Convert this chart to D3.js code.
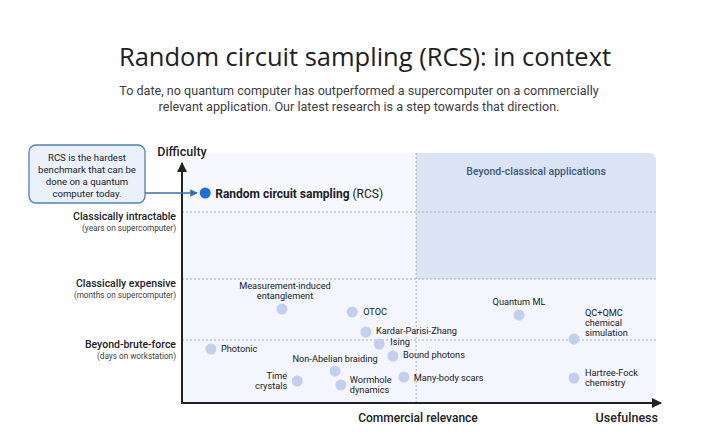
<!DOCTYPE html>
<html><head><meta charset="utf-8">
<script src="https://cdn.jsdelivr.net/npm/d3@7"></script>
<style>
html,body{margin:0;padding:0;background:#fff;}
svg{display:block;font-family:Roboto,"Open Sans",sans-serif;}
</style></head>
<body><svg id="c" width="720" height="447"></svg>
<script>
// ---- data ----
const pointNames = ["Random circuit sampling","Measurement-induced entanglement","OTOC","Kardar-Parisi-Zhang","Ising","Photonic","Non-Abelian braiding","Bound photons","Time crystals","Wormhole dynamics","Many-body scars","Quantum ML","QC+QMC chemical simulation","Hartree-Fock chemistry"];
const usefulness = [4.9,21.1,35.9,38.8,41.6,6.1,32.3,44.5,24.3,33.5,46.8,71.1,82.7,82.7];
const difficulty = [84,37.6,36.4,28.4,23.6,21.6,12.8,18.8,8.8,7.2,10.4,35.2,25.6,10];
const tierNames = ["Classically intractable","Classically expensive","Beyond-brute-force"];
const tierNotes = ["(years on supercomputer)","(months on supercomputer)","(days on workstation)"];
const tierLevels = [76.4,49.6,25.2];
const commercialThreshold = 49.4;

// label placement (style only)
const place = {
 "Measurement-induced entanglement":{a:"middle",dx:3,dy:-23,lines:["Measurement-induced","entanglement"]},
 "OTOC":{a:"start",dx:11,dy:0},
 "Kardar-Parisi-Zhang":{a:"start",dx:10,dy:-1},
 "Ising":{a:"start",dx:11,dy:-2},
 "Photonic":{a:"start",dx:10,dy:0},
 "Non-Abelian braiding":{a:"middle",dx:0,dy:-12},
 "Bound photons":{a:"start",dx:10,dy:-1},
 "Time crystals":{a:"end",dx:-10,dy:-5,lines:["Time","crystals"]},
 "Wormhole dynamics":{a:"start",dx:9,dy:-5,lines:["Wormhole","dynamics"]},
 "Many-body scars":{a:"start",dx:10,dy:1},
 "Quantum ML":{a:"middle",dx:0,dy:-13},
 "QC+QMC chemical simulation":{a:"start",dx:11,dy:-26,lines:["QC+QMC","chemical","simulation"]},
 "Hartree-Fock chemistry":{a:"start",dx:11,dy:-5,lines:["Hartree-Fock","chemistry"]}
};

const svg = d3.select("#c");
const x = d3.scaleLinear().domain([0,100]).range([182,656]);
const y = d3.scaleLinear().domain([0,100]).range([403,153]);

// title
svg.append("text").attr("x",365).attr("y",66).attr("text-anchor","middle")
  .attr("font-size",25.5).attr("fill","#202124").attr("font-family","'Open Sans',Roboto,sans-serif")
  .text("Random circuit sampling (RCS): in context");
const sub = ["To date, no quantum computer has outperformed a supercomputer on a commercially","relevant application. Our latest research is a step towards that direction."];
sub.forEach((s,i)=>svg.append("text").attr("x",359).attr("y",95+i*15.5).attr("text-anchor","middle")
  .attr("font-size",12.6).attr("fill","#3c4043").text(s));

// plot background
const x0=x(0), x1=x(100), yTop=y(100), yBot=y(0);
svg.append("path").attr("fill","#f3f6fc")
  .attr("d",`M${x0},${yTop}H${x1-8}Q${x1},${yTop} ${x1},${yTop+8}V${yBot}H${x0}Z`);
svg.append("rect").attr("x",x0).attr("y",yTop).attr("width",x(commercialThreshold)-x0).attr("height",y(tierLevels[0])-yTop).attr("fill","#f6f8fd");
// beyond classical region
const bx=x(commercialThreshold), by=y(tierLevels[1]);
svg.append("path").attr("fill","#dae4f4")
  .attr("d",`M${bx},${yTop}H${x1-8}Q${x1},${yTop} ${x1},${yTop+8}V${by}H${bx}Z`);
svg.append("text").attr("x",(bx+x1)/2).attr("y",yTop+22).attr("text-anchor","middle")
  .attr("font-size",10.5).attr("font-weight",500).attr("fill","#3b5878").text("Beyond-classical applications");

// dashed grid
tierLevels.forEach(v=>svg.append("line").attr("x1",x0).attr("x2",x1).attr("y1",y(v)).attr("y2",y(v))
  .attr("stroke","#a3abb8").attr("stroke-width",1).attr("stroke-dasharray","2,2"));
svg.append("line").attr("x1",bx).attr("x2",bx).attr("y1",yTop).attr("y2",yBot)
  .attr("stroke","#a3abb8").attr("stroke-dasharray","2,2");

// axes
const defs=svg.append("defs");
defs.append("marker").attr("id","ah").attr("viewBox","0 0 10 10").attr("refX",9).attr("refY",5)
  .attr("markerWidth",5).attr("markerHeight",5).attr("orient","auto")
  .append("path").attr("d","M0,0L10,5L0,10Z").attr("fill","#202124");
defs.append("marker").attr("id","bh").attr("viewBox","0 0 10 10").attr("refX",9).attr("refY",5)
  .attr("markerWidth",5).attr("markerHeight",5).attr("orient","auto")
  .append("path").attr("d","M0,0L10,5L0,10Z").attr("fill","#2f6fb5");
svg.append("line").attr("x1",x0).attr("x2",x0).attr("y1",yBot+1).attr("y2",163)
  .attr("stroke","#202124").attr("stroke-width",2).attr("marker-end","url(#ah)");
svg.append("line").attr("x1",x0-1).attr("x2",661).attr("y1",yBot).attr("y2",yBot)
  .attr("stroke","#202124").attr("stroke-width",2).attr("marker-end","url(#ah)");

svg.append("text").attr("x",x0).attr("y",156).attr("text-anchor","middle").attr("font-size",12.5)
  .attr("font-weight",500).attr("fill","#202124").text("Difficulty");
svg.append("text").attr("x",418).attr("y",422).attr("text-anchor","middle").attr("font-size",12)
  .attr("font-weight",500).attr("fill","#202124").text("Commercial relevance");
svg.append("text").attr("x",658).attr("y",422).attr("text-anchor","end").attr("font-size",12.5)
  .attr("font-weight",500).attr("fill","#202124").text("Usefulness");

// tier labels
tierLevels.forEach((v,i)=>{
  svg.append("text").attr("x",176).attr("y",y(v)+8).attr("text-anchor","end").attr("font-size",10.5)
    .attr("font-weight",500).attr("fill","#202124").text(tierNames[i]);
  svg.append("text").attr("x",176).attr("y",y(v)+19).attr("text-anchor","end").attr("font-size",8.2)
    .attr("fill","#3c4043").text(tierNotes[i]);
});

// callout
svg.append("rect").attr("x",29).attr("y",145).attr("width",116).attr("height",58).attr("rx",7)
  .attr("fill","#eaf1fa").attr("stroke","#4d81ba").attr("stroke-width",1.3);
["RCS is the hardest","benchmark that can be","done on a quantum","computer today."].forEach((s,i)=>
  svg.append("text").attr("x",87).attr("y",160.5+i*12).attr("text-anchor","middle").attr("font-size",9.6)
   .attr("fill","#202124").text(s));
svg.append("line").attr("x1",145).attr("x2",197).attr("y1",y(difficulty[0])).attr("y2",y(difficulty[0]))
  .attr("stroke","#2f6fb5").attr("stroke-width",1.5).attr("marker-end","url(#bh)");

// points
const pts = pointNames.map((n,i)=>({n,u:usefulness[i],d:difficulty[i]}));
svg.selectAll("circle.p").data(pts).join("circle").attr("class","p")
  .attr("cx",d=>x(d.u)).attr("cy",d=>y(d.d)).attr("r",5.5)
  .attr("fill",(d,i)=>i===0?"#1a6fdc":"#c2d0ee");

// RCS label
const rl = svg.append("text").attr("x",x(usefulness[0])+10).attr("y",y(difficulty[0])+4.5).attr("font-size",12).attr("fill","#202124");
rl.append("tspan").attr("font-weight",700).text("Random circuit sampling ");
rl.append("tspan").text("(RCS)");

pts.slice(1).forEach(p=>{
  const o=place[p.n]; const lines=o.lines||[p.n];
  const t=svg.append("text").attr("text-anchor",o.a).attr("font-size",9.2).attr("fill","#202124");
  lines.forEach((s,i)=>t.append("tspan").attr("x",x(p.u)+o.dx).attr("y",y(p.d)+o.dy+3.3+i*10).text(s));
});
</script></body></html>
